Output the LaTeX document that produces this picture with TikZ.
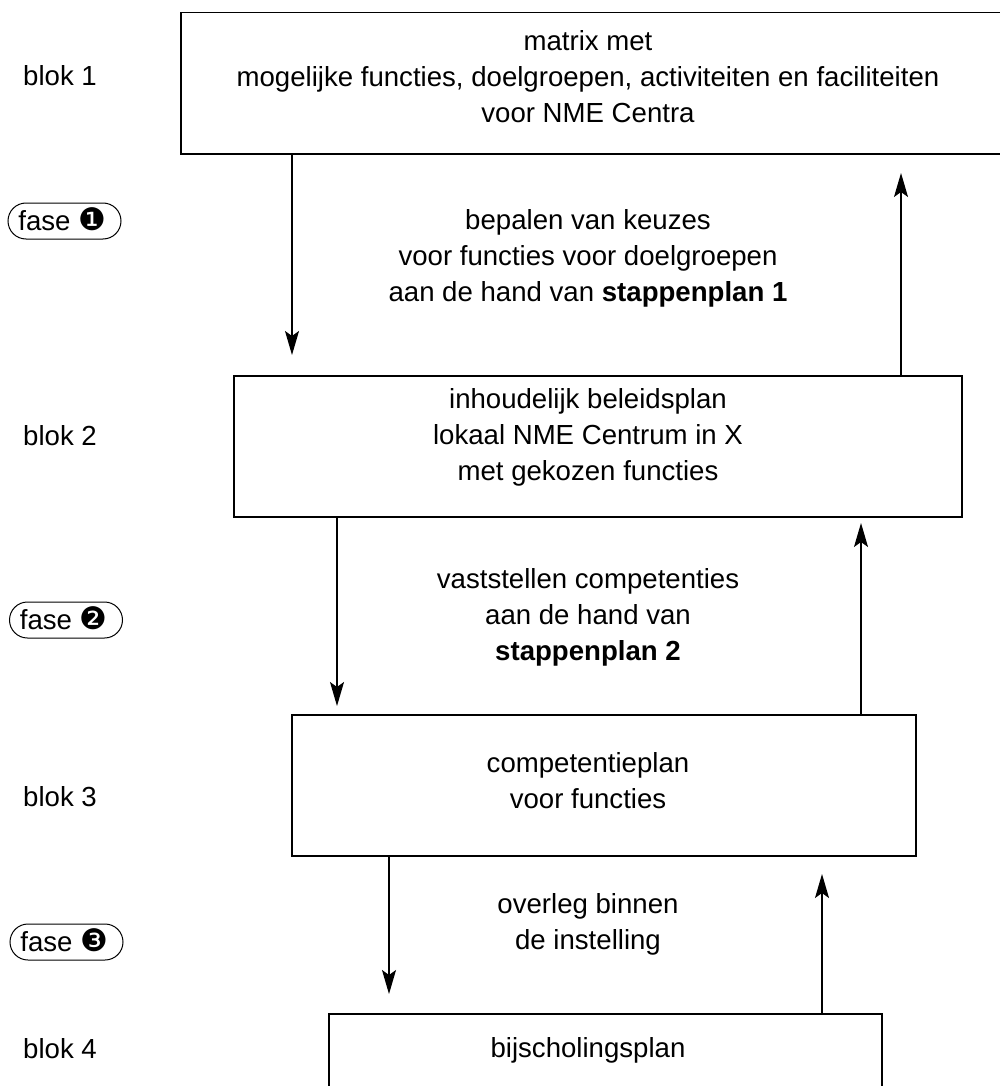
\documentclass[tikz,border=0pt]{standalone}
\usepackage{fontspec}
\setmainfont{Liberation Sans}
\newfontfamily\dejavu{DejaVu Sans}
\usetikzlibrary{arrows.meta}
\newcommand{\mainsize}{\fontsize{27.6}{36}\selectfont}
\newcommand{\circnum}[1]{\smash{\dejavu\fontsize{31}{31}\selectfont #1}}
\begin{document}
\begin{tikzpicture}[x=1pt,y=-1pt,
  box/.style={draw, rectangle, line width=1.5pt, inner sep=0pt},
  txt/.style={align=center, inner sep=0pt, font=\mainsize},
  bloklabel/.style={anchor=west, inner sep=0pt, font=\mainsize},
  faselabel/.style={draw, line width=1pt, rounded corners=18pt, minimum width=113pt, minimum height=36pt, inner sep=0pt, font=\mainsize},
  arr/.style={line width=1.3pt, -{Stealth[length=24pt,width=14pt,inset=5pt]}}
]
\useasboundingbox (0,0) rectangle (1000,1086);
\clip (0,0) rectangle (1000,1086);
\fill[white] (0,0) rectangle (1000,1086);

% boxes
\node[box, minimum width=829pt, minimum height=141.5pt] (b1) at (595.5,83.25) {};
\node[box, minimum width=728pt, minimum height=141pt] (b2) at (598,446.5) {};
\node[box, minimum width=624pt, minimum height=141pt] (b3) at (604,785.5) {};
\node[box, minimum width=553pt, minimum height=86pt] (b4) at (605.5,1057) {};

% box texts
\node[txt] (t1) at (588,77) {matrix met\\mogelijke functies, doelgroepen, activiteiten en faciliteiten\\voor NME Centra};
\node[txt] (t2) at (588,437) {inhoudelijk beleidsplan\\lokaal NME Centrum in X\\met gekozen functies};
\node[txt] (t3) at (588,780.5) {competentieplan\\voor functies};
\node[txt] (t4) at (588,1050) {bijscholingsplan};

% phase texts
\node[txt] (p1) at (588,258) {bepalen van keuzes\\voor functies voor doelgroepen\\aan de hand van \textbf{stappenplan 1}};
\node[txt] (p2) at (588,617) {vaststellen competenties\\aan de hand van\\\textbf{stappenplan 2}};
\node[txt] (p3) at (588,924) {overleg binnen\\de instelling};

% left labels
\node[bloklabel] (l1) at (23,76) {blok 1};
\node[bloklabel] (l2) at (23,436) {blok 2};
\node[bloklabel] (l3) at (23,797) {blok 3};
\node[bloklabel] (l4) at (23,1049) {blok 4};

\node[faselabel] (f1) at (64.5,221) {fase \circnum{❶}\,};
\node[faselabel] (f2) at (66,620) {fase \circnum{❷}\,};
\node[faselabel] (f3) at (66.5,942) {fase \circnum{❸}\,};

% arrow end points
\coordinate (d1) at (292,355);
\coordinate (u1) at (901,173);
\coordinate (d2) at (337,706);
\coordinate (u2) at (861,523);
\coordinate (d3) at (389,994);
\coordinate (u3) at (822,874);

\draw[arr] (b1.south -| d1) -- (d1);
\draw[arr] (b2.north -| u1) -- (u1);
\draw[arr] (b2.south -| d2) -- (d2);
\draw[arr] (b3.north -| u2) -- (u2);
\draw[arr] (b3.south -| d3) -- (d3);
\draw[arr] (b4.north -| u3) -- (u3);
\end{tikzpicture}
\end{document}
